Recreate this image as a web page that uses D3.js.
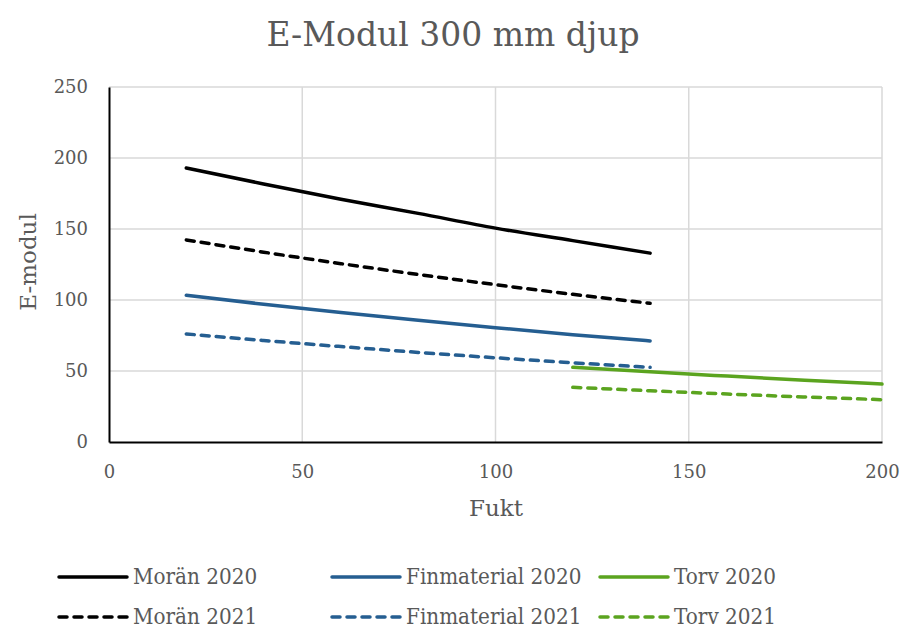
<!DOCTYPE html>
<html>
<head>
<meta charset="utf-8">
<script src="https://cdn.jsdelivr.net/npm/d3@7"></script>
<style>
  body { margin: 0; background: #fff; }
  text { font-family: 'DejaVu Serif', 'Liberation Serif', serif; fill: #595959; }
</style>
</head>
<body>
<svg id="chart"></svg>
<script>
// Data
var moranX = [20, 40, 60, 80, 100, 120, 140];
var moran2020 = [193, 181.7, 171, 161, 150.6, 141.8, 133];
var moran2021 = [142.3, 133.7, 125.6, 118, 110.8, 104, 97.7];
var finX = [20, 40, 60, 80, 100, 120, 140];
var fin2020 = [103.3, 97, 91.2, 85.7, 80.5, 75.6, 71.2];
var fin2021 = [76.1, 71.5, 67.2, 63.1, 59.3, 55.8, 52.6];
var torvX = [120, 140, 160, 180, 200];
var torv2020 = [52.6, 49.4, 46.4, 43.5, 40.8];
var torv2021 = [38.5, 36.1, 33.8, 31.7, 29.8];
var xTicks = [0, 50, 100, 150, 200];
var yTicks = [0, 50, 100, 150, 200, 250];

var series = [
    { name: 'Morän 2020', x: moranX, y: moran2020, color: '#000000', dash: false },
    { name: 'Finmaterial 2020', x: finX, y: fin2020, color: '#255e91', dash: false },
    { name: 'Torv 2020', x: torvX, y: torv2020, color: '#5ba41f', dash: false },
    { name: 'Morän 2021', x: moranX, y: moran2021, color: '#000000', dash: true },
    { name: 'Finmaterial 2021', x: finX, y: fin2021, color: '#255e91', dash: true },
    { name: 'Torv 2021', x: torvX, y: torv2021, color: '#5ba41f', dash: true }
];

var svgWidth = 906;
var svgHeight = 630;

var svg = d3.select('#chart')
    .attr('width', svgWidth)
    .attr('height', svgHeight);

var margin = { top: 87, right: 24, bottom: 188, left: 109 };
var chartWidth = svgWidth - margin.left - margin.right;
var chartHeight = svgHeight - margin.top - margin.bottom;

var chartGroup = svg.append('g')
    .attr('transform', `translate(${margin.left}, ${margin.top})`);

var xScale = d3.scaleLinear().domain([0, 200]).range([0, chartWidth]);
var yScale = d3.scaleLinear().domain([0, 250]).range([chartHeight, 0]);

// Grid
chartGroup.append('g')
    .selectAll('line.hgrid')
    .data(yTicks.slice(1))
    .enter()
    .append('line')
    .attr('x1', 0)
    .attr('x2', chartWidth)
    .attr('y1', (d) => yScale(d))
    .attr('y2', (d) => yScale(d))
    .attr('stroke', '#d9d9d9')
    .attr('stroke-width', 1.5);

chartGroup.append('g')
    .selectAll('line.vgrid')
    .data(xTicks.slice(1))
    .enter()
    .append('line')
    .attr('x1', (d) => xScale(d))
    .attr('x2', (d) => xScale(d))
    .attr('y1', 0)
    .attr('y2', chartHeight)
    .attr('stroke', '#d9d9d9')
    .attr('stroke-width', 1.5);

// Axes
var bottomAxis = d3.axisBottom(xScale).tickValues(xTicks).tickSize(0).tickPadding(23);
var leftAxis = d3.axisLeft(yScale).tickValues(yTicks).tickSize(0).tickPadding(21);

var xAxis = chartGroup.append('g')
    .attr('transform', `translate(0, ${chartHeight})`)
    .call(bottomAxis);
xAxis.select('.domain').attr('stroke', '#000').attr('stroke-width', 2);

var yAxis = chartGroup.append('g')
    .call(leftAxis);
yAxis.select('.domain').attr('stroke', '#000').attr('stroke-width', 2);

chartGroup.selectAll('.tick text')
    .attr('font-family', "'DejaVu Serif', serif")
    .attr('font-size', 18)
    .attr('fill', '#595959');

// Lines
var line = d3.line()
    .x((d) => xScale(d[0]))
    .y((d) => yScale(d[1]))
    .curve(d3.curveMonotoneX);

series.forEach((s) => {
    chartGroup.append('path')
        .datum(s.x.map((x, i) => [x, s.y[i]]))
        .attr('d', line)
        .attr('fill', 'none')
        .attr('stroke', s.color)
        .attr('stroke-width', 3.5)
        .attr('stroke-linecap', 'round')
        .attr('stroke-dasharray', s.dash ? '8,7' : null);
});

// Titles
svg.append('text')
    .attr('x', 453)
    .attr('y', 46)
    .attr('text-anchor', 'middle')
    .attr('font-size', 33)
    .text('E-Modul 300 mm djup');

svg.append('text')
    .attr('transform', 'rotate(-90)')
    .attr('x', -262)
    .attr('y', 36)
    .attr('text-anchor', 'middle')
    .attr('font-size', 23)
    .text('E-modul');

svg.append('text')
    .attr('x', 496)
    .attr('y', 516)
    .attr('text-anchor', 'middle')
    .attr('font-size', 23)
    .text('Fukt');

// Legend
var legendX = [57, 330, 598];
var legendY = [577, 617];
series.forEach((s, i) => {
    var lx = legendX[i % 3];
    var ly = legendY[Math.floor(i / 3)];
    var g = svg.append('g').attr('transform', `translate(${lx}, ${ly})`);
    g.append('line')
        .attr('x1', 2)
        .attr('x2', 70)
        .attr('y1', 0)
        .attr('y2', 0)
        .attr('stroke', s.color)
        .attr('stroke-width', 3.5)
        .attr('stroke-linecap', 'round')
        .attr('stroke-dasharray', s.dash ? '8,7' : null);
    g.append('text')
        .attr('transform', 'translate(76, 7) scale(0.87, 1)')
        .attr('font-family', "'Liberation Serif', serif")
        .attr('font-size', 23)
        .text(s.name);
});
</script>
</body>
</html>
